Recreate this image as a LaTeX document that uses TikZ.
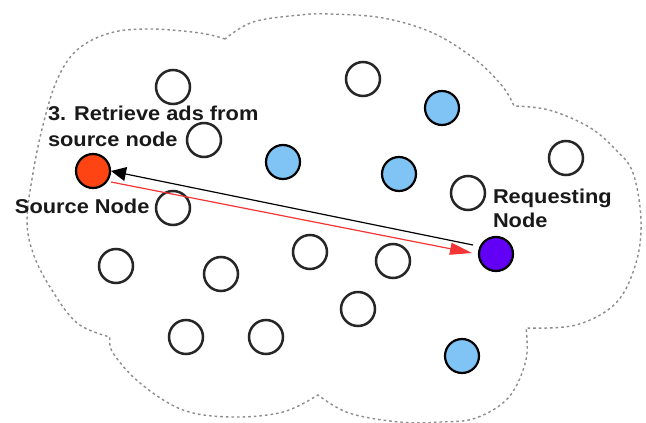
\documentclass[tikz,border=0pt]{standalone}
\usepackage{fontspec}
\newfontfamily\labfont[FakeStretch=1.09]{Liberation Sans}
\usetikzlibrary{arrows.meta}
\definecolor{nodeblue}{HTML}{80C3F5}
\definecolor{srcred}{HTML}{FF4414}
\definecolor{reqpurple}{HTML}{6200F5}
\definecolor{arrred}{HTML}{F53535}
\definecolor{cloudgray}{HTML}{8C8C8C}
\tikzset{
  peer/.style={circle,draw=black!85,line width=2.5pt,minimum size=34pt,inner sep=0pt,outer sep=0pt,fill=white},
  bluepeer/.style={peer,draw=black,line width=2.2pt,fill=nodeblue},
  srcpeer/.style={peer,draw=black,line width=2.2pt,fill=srcred},
  reqpeer/.style={peer,draw=black,line width=2.2pt,fill=reqpurple},
  lab/.style={anchor=base west,inner sep=0pt,outer sep=0pt,font=\labfont\bfseries\fontsize{20}{24}\selectfont,text=black!90},
  cloudline/.style={draw=cloudgray,line width=1.4pt,dash pattern=on 2.6pt off 3pt},
  blackarrow/.style={draw=black,line width=1.2pt,-{Triangle[length=15pt,width=14pt]}},
  redarrow/.style={draw=arrred,line width=1.2pt,-{Triangle[length=22pt,width=12pt]}}
}
\begin{document}
\begin{tikzpicture}[x=1pt,y=-1pt]
\useasboundingbox[fill=white] (0,0) rectangle (646,423);
% cloud outline
\draw[cloudline] plot[smooth,tension=0.6] coordinates {(225,39) (200,33) (150,29) (110,33) (77,50) (57,80) (43,125) (33,173) (27,220) (33,253) (50,287) (77,323) (110,337)}
  -- plot[smooth,tension=0.6] coordinates {(110,337) (113,353) (140,383) (183,410) (233,417) (283,412) (318,395)}
  -- plot[smooth,tension=0.6] coordinates {(318,395) (349,413) (399,422) (440,422) (476,418) (509,397) (526,360) (526,328)}
  -- plot[smooth,tension=0.6] coordinates {(526,328) (576,325) (616,303) (636,263) (641,220) (633,173) (616,150) (589,127) (549,110) (514,106)}
  -- plot[smooth,tension=0.6] coordinates {(514,106) (503,87) (476,60) (433,33) (383,18) (330,14) (300,15) (253,22) (225,39)};
% peers
\node[peer] (w1) at (173,87) {};
\node[peer] (w2) at (363,79) {};
\node[bluepeer] (b1) at (442,108) {};
\node[peer] (w3) at (204,140) {};
\node[bluepeer] (b2) at (283,162) {};
\node[bluepeer] (b3) at (399,174) {};
\node[peer] (w4) at (566,158) {};
\node[srcpeer] (src) at (93,171) {};
\node[peer] (w5) at (173,208) {};
\node[peer] (w6) at (468,193) {};
\node[reqpeer] (req) at (496,254) {};
\node[peer] (w7) at (116,266) {};
\node[peer] (w8) at (221,274) {};
\node[peer] (w9) at (310,252) {};
\node[peer] (w10) at (393,261) {};
\node[peer] (w11) at (358,309) {};
\node[peer] (w12) at (186,337) {};
\node[peer] (w13) at (266,337) {};
\node[bluepeer] (b4) at (462,356) {};
% labels
\node[lab] (t1) at (48,120) {3. Retrieve ads from};
\node[lab] (t2) at (48,146) {source node};
\node[lab] (t3) at (15,213) {Source Node};
\node[lab] (t4) at (493,203) {Requesting};
\node[lab] (t5) at (493,227) {Node};
% connectors
\draw[blackarrow] ([xshift=-6pt,yshift=9pt]req.west) -- ([xshift=1pt]src.east);
\draw[redarrow] ([xshift=1pt,yshift=-11pt]src.east) -- ([xshift=-7pt,yshift=1pt]req.west);
\end{tikzpicture}
\end{document}
